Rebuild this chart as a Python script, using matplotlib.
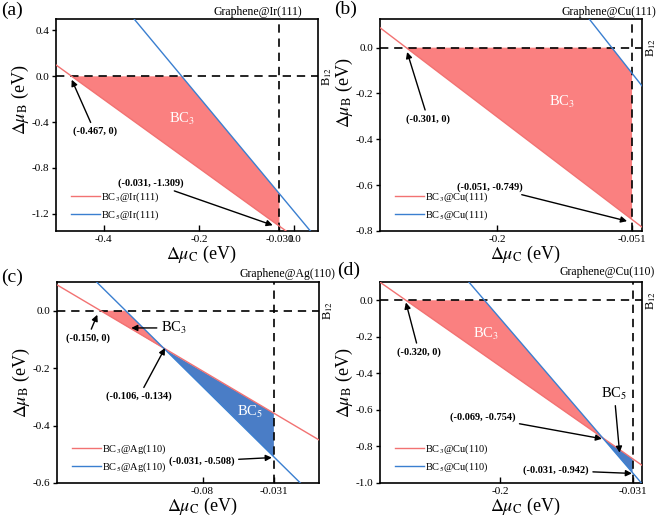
import matplotlib
matplotlib.use("Agg")
import matplotlib.pyplot as plt

plt.rcParams["font.family"] = ["Liberation Serif", "DejaVu Serif"]
plt.rcParams["mathtext.fontset"] = "stix"

RED_LINE = "#F27272"
RED_FILL = "#FA8080"
BLUE_LINE = "#3A7FD0"
BLUE_FILL = "#4A7DC6"

# ── data ──
substrates = ["Ir(111)", "Cu(111)", "Ag(110)", "Cu(110)"]
panel_tags = ["(a)", "(b)", "(c)", "(d)"]

# chemical potential limit of C (vertical dashed line)
mu_c_limit = [-0.031, -0.051, -0.031, -0.031]

# BC3 / BC5 stability lines (two end points each)
bc3_x = [[-0.50, 0.05], [-0.33, -0.04], [-0.18, 0.0], [-0.353, -0.019]]
bc3_y = [[0.099, -1.551], [0.087, -0.783], [0.09, -0.45], [0.099, -0.903]]
bc5_x = [[-0.34, 0.05], [-0.10, -0.04], [-0.153, 0.0], [-0.2398, -0.0198]]
bc5_y = [[0.52, -1.43], [0.133, -0.167], [0.101, -0.664], [0.10, -1.00]]

# stable regions
bc3_region_x = [[-0.467, -0.236, -0.031, -0.031], [-0.301, -0.0734, -0.051, -0.051],
                [-0.150, -0.1328, -0.106], [-0.320, -0.2198, -0.069]]
bc3_region_y = [[0, 0, -1.025, -1.309], [0, 0, -0.112, -0.749],
                [0, 0, -0.134], [0, 0, -0.754]]
bc5_region_x = [None, None, [-0.106, -0.031, -0.031], [-0.069, -0.031, -0.031]]
bc5_region_y = [None, None, [-0.134, -0.357, -0.508], [-0.754, -0.867, -0.942]]

x_limits = [(-0.50, 0.05), (-0.33, -0.04), (-0.18, 0.0), (-0.353, -0.019)]
y_limits = [(-1.35, 0.5), (-0.8, 0.125), (-0.6, 0.1), (-1.0, 0.1)]
x_ticks = [[-0.4, -0.2, -0.031, 0.0], [-0.2, -0.051], [-0.08, -0.031], [-0.2, -0.031]]
x_tick_labels = [["-0.4", "-0.2", "-0.031", "0.0"], ["-0.2", "-0.051"],
                 ["-0.08", "-0.031"], ["-0.2", "-0.031"]]
y_ticks = [[0.4, 0.0, -0.4, -0.8, -1.2], [0.0, -0.2, -0.4, -0.6, -0.8],
           [0.0, -0.2, -0.4, -0.6], [0.0, -0.2, -0.4, -0.6, -0.8, -1.0]]

# ── layout (figure fractions) ──
W, H = 660, 516
ax_boxes = [(56, 19, 318, 231), (380, 19, 642, 231),
            (57, 282, 319, 483), (380, 282, 642, 483)]
tag_pos = [(12.5, 10), (346, 9.5), (12.5, 277), (349, 270)]
graphene_pos = [(213, 12), (561, 12), (239, 274), (560, 272)]
ylabel_y = [0.62, 0.65, 0.5, 0.5]

fig = plt.figure(figsize=(W / 100, H / 100), dpi=100)
axes = []
for i, (l, t, r, b) in enumerate(ax_boxes):
    ax = fig.add_axes([l / W, 1 - b / H, (r - l) / W, (b - t) / H])
    axes.append(ax)

    ax.fill(bc3_region_x[i], bc3_region_y[i], color=RED_FILL, lw=0, zorder=1)
    if bc5_region_x[i] is not None:
        ax.fill(bc5_region_x[i], bc5_region_y[i], color=BLUE_FILL, lw=0, zorder=1)

    ax.axhline(0, color="k", lw=1.2, ls=(0, (5, 3.5)), zorder=2)
    ax.axvline(mu_c_limit[i], color="k", lw=1.2, ls=(0, (5, 3.5)), zorder=2)

    ax.plot(bc3_x[i], bc3_y[i], color=RED_LINE, lw=1.0, zorder=3,
            label=f"BC$_3$@{substrates[i]}")
    ax.plot(bc5_x[i], bc5_y[i], color=BLUE_LINE, lw=1.0, zorder=3,
            label=f"BC$_5$@{substrates[i]}")

    ax.set_xlim(*x_limits[i])
    ax.set_ylim(*y_limits[i])
    ax.set_xticks(x_ticks[i])
    ax.set_xticklabels(x_tick_labels[i])
    ax.set_yticks(y_ticks[i])
    ax.set_yticklabels([f"{v:.1f}" for v in y_ticks[i]])
    ax.tick_params(axis="x", direction="in", length=4, width=1, labelsize=8, pad=3)
    ax.tick_params(axis="y", direction="out", length=3, width=1, labelsize=8, pad=2)
    for sp in ax.spines.values():
        sp.set_linewidth(1.2)

    ax.set_xlabel(r"$\Delta\mu_{\mathrm{C}}$ (eV)", fontsize=13, va="center")
    ax.set_ylabel(r"$\Delta\mu_{\mathrm{B}}$ (eV)", fontsize=13, va="center")
    h_px = b - t
    ax.xaxis.set_label_coords(0.553, -23 / h_px)
    ax.yaxis.set_label_coords(-36 / (r - l), ylabel_y[i])

    ax.legend(loc="lower left", bbox_to_anchor=(0.02, 0.0), frameon=False,
              fontsize=7.5, handlelength=2.8, handletextpad=0.1, labelspacing=0.4)

    fig.text(tag_pos[i][0] / W, 1 - tag_pos[i][1] / H, panel_tags[i],
             fontsize=14, ha="center", va="center")
    fig.text(graphene_pos[i][0] / W, 1 - graphene_pos[i][1] / H,
             f"Graphene@{substrates[i]}", fontsize=8.5, ha="left", va="center")
    ax.annotate("B$_{12}$", xy=(1, 0), xycoords=("axes fraction", "data"),
                xytext=(9, 0), textcoords="offset pixels", rotation=90,
                fontsize=9, ha="center", va="center", annotation_clip=False)

arrow = dict(arrowstyle="-|>", color="k", lw=1.0, mutation_scale=9, shrinkA=1, shrinkB=0)
bold = dict(fontsize=7.5, fontweight="bold", ha="center", va="center")
white = dict(fontsize=10.5, color="white", ha="center", va="center")

# (a)
ax = axes[0]
ax.annotate("(-0.467, 0)", xy=(-0.467, -0.03), xytext=(-0.419, -0.48), arrowprops=arrow, **bold)
ax.annotate("(-0.031, -1.309)", xy=(-0.045, -1.30), xytext=(-0.30, -0.93), arrowprops=arrow, **bold)
ax.text(-0.236, -0.37, "BC$_3$", **white)

# (b)
ax = axes[1]
ax.annotate("(-0.301, 0)", xy=(-0.300, -0.019), xytext=(-0.277, -0.311), arrowprops=arrow, **bold)
ax.annotate("(-0.051, -0.749)", xy=(-0.0565, -0.757), xytext=(-0.208, -0.607), arrowprops=arrow, **bold)
ax.text(-0.129, -0.236, "BC$_3$", **white)

# (c)
ax = axes[2]
ax.annotate("(-0.150, 0)", xy=(-0.1523, -0.014), xytext=(-0.159, -0.095), arrowprops=arrow, **bold)
ax.annotate("BC$_3$", xy=(-0.129, -0.06), xytext=(-0.0996, -0.06), arrowprops=arrow,
            fontsize=10.5, ha="center", va="center")
ax.annotate("(-0.106, -0.134)", xy=(-0.1058, -0.130), xytext=(-0.1236, -0.298), arrowprops=arrow, **bold)
ax.annotate("(-0.031, -0.508)", xy=(-0.0324, -0.5115), xytext=(-0.0806, -0.524), arrowprops=arrow, **bold)
ax.text(-0.0474, -0.351, "BC$_5$", **white)

# (d)
ax = axes[3]
ax.annotate("(-0.320, 0)", xy=(-0.320, -0.012), xytext=(-0.3034, -0.283), arrowprops=arrow, **bold)
ax.text(-0.218, -0.185, "BC$_3$", **white)
ax.annotate("BC$_5$", xy=(-0.0476, -0.834), xytext=(-0.0544, -0.51), arrowprops=arrow,
            fontsize=10.5, ha="center", va="center")
ax.annotate("(-0.069, -0.754)", xy=(-0.070, -0.758), xytext=(-0.2223, -0.639), arrowprops=arrow, **bold)
ax.annotate("(-0.031, -0.942)", xy=(-0.0318, -0.9476), xytext=(-0.1287, -0.931), arrowprops=arrow, **bold)

fig.savefig("out.png", dpi=100)
